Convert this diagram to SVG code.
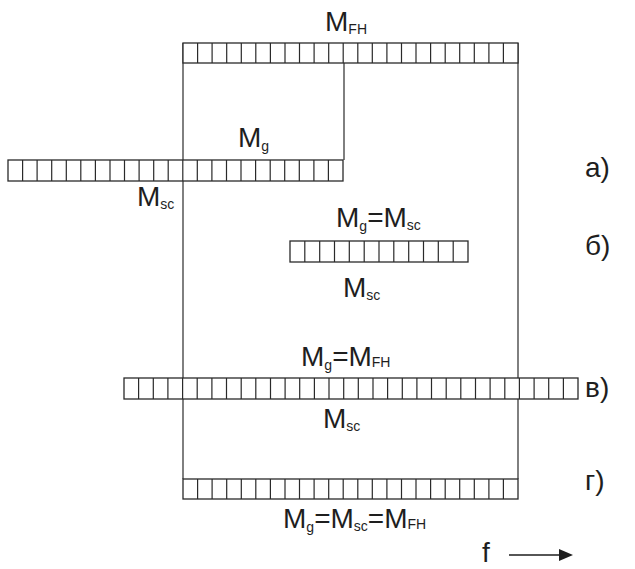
<svg xmlns="http://www.w3.org/2000/svg" width="635" height="569" viewBox="0 0 635 569">
  <defs>
    <style>
      .bar { fill: #ffffff; stroke: #2a2a2a; stroke-width: 1.3; }
      .cells { fill: none; stroke: #2a2a2a; stroke-width: 1.2; }
      .frame { fill: none; stroke: #2a2a2a; stroke-width: 1.2; }
      .lbl { font-family: "Liberation Sans", Arial, sans-serif; font-size: 28px; fill: #1e1e1e; }
      .sub { font-size: 14px; }
    </style>
    <marker id="arrowhead" markerWidth="14" markerHeight="12" refX="1" refY="6" orient="auto" markerUnits="userSpaceOnUse">
      <polygon points="0,0 14,6 0,12" fill="#1e1e1e"/>
    </marker>
  </defs>
  <rect width="635" height="569" fill="#ffffff"/>

  <!-- frame lines joining the filter bands -->
  <g id="connectors">
    <line class="frame" x1="183" y1="43" x2="183" y2="479"/>
    <line class="frame" x1="518" y1="43" x2="518" y2="479"/>
    <line class="frame" x1="344" y1="63" x2="344" y2="160"/>
  </g>

  <!-- top band: M_FH -->
  <g id="band-fh">
    <rect class="bar" x="183" y="43" width="335" height="20"/>
    <path class="cells" d="M197.6,43V63M212.1,43V63M226.7,43V63M241.3,43V63M255.8,43V63M270.4,43V63M285,43V63M299.5,43V63M314.1,43V63M328.7,43V63M343.2,43V63M357.8,43V63M372.3,43V63M386.9,43V63M401.5,43V63M416,43V63M430.6,43V63M445.2,43V63M459.7,43V63M474.3,43V63M488.9,43V63M503.4,43V63"/>
    <text class="lbl" x="325" y="31">M<tspan class="sub" dy="3">FH</tspan></text>
  </g>

  <!-- case a -->
  <g id="band-a">
    <rect class="bar" x="8" y="160" width="335" height="21"/>
    <path class="cells" d="M22.6,160V181M37.1,160V181M51.7,160V181M66.3,160V181M80.8,160V181M95.4,160V181M110,160V181M124.5,160V181M139.1,160V181M153.7,160V181M168.2,160V181M182.8,160V181M197.3,160V181M211.9,160V181M226.5,160V181M241,160V181M255.6,160V181M270.2,160V181M284.7,160V181M299.3,160V181M313.9,160V181M328.4,160V181"/>
    <text class="lbl" x="238" y="147">M<tspan class="sub" dy="4">g</tspan></text>
    <text class="lbl" x="137" y="206">M<tspan class="sub" dy="3">sc</tspan></text>
    <text class="lbl" x="585" y="177">а)</text>
  </g>

  <!-- case b -->
  <g id="band-b">
    <rect class="bar" x="290" y="241" width="178" height="21"/>
    <path class="cells" d="M304.8,241V262M319.7,241V262M334.5,241V262M349.3,241V262M364.2,241V262M379,241V262M393.8,241V262M408.7,241V262M423.5,241V262M438.3,241V262M453.2,241V262"/>
    <text class="lbl" x="336" y="227">M<tspan class="sub" dy="4">g</tspan><tspan dy="-4">=M</tspan><tspan class="sub" dy="3">sc</tspan></text>
    <text class="lbl" x="343" y="297">M<tspan class="sub" dy="3">sc</tspan></text>
    <text class="lbl" x="585" y="255">б)</text>
  </g>

  <!-- case c -->
  <g id="band-c">
    <rect class="bar" x="124" y="378" width="454" height="21"/>
    <path class="cells" d="M138.6,378V399M153.3,378V399M167.9,378V399M182.6,378V399M197.2,378V399M211.9,378V399M226.5,378V399M241.2,378V399M255.8,378V399M270.5,378V399M285.1,378V399M299.7,378V399M314.4,378V399M329,378V399M343.7,378V399M358.3,378V399M373,378V399M387.6,378V399M402.3,378V399M416.9,378V399M431.5,378V399M446.2,378V399M460.8,378V399M475.5,378V399M490.1,378V399M504.8,378V399M519.4,378V399M534.1,378V399M548.7,378V399M563.4,378V399"/>
    <text class="lbl" x="301" y="366">M<tspan class="sub" dy="4">g</tspan><tspan dy="-4">=M</tspan><tspan class="sub" dy="1">FH</tspan></text>
    <text class="lbl" x="323" y="428">M<tspan class="sub" dy="3">sc</tspan></text>
    <text class="lbl" x="585" y="397">в)</text>
  </g>

  <!-- case d -->
  <g id="band-d">
    <rect class="bar" x="183" y="479" width="335" height="20"/>
    <path class="cells" d="M197.6,479V499M212.1,479V499M226.7,479V499M241.3,479V499M255.8,479V499M270.4,479V499M285,479V499M299.5,479V499M314.1,479V499M328.7,479V499M343.2,479V499M357.8,479V499M372.3,479V499M386.9,479V499M401.5,479V499M416,479V499M430.6,479V499M445.2,479V499M459.7,479V499M474.3,479V499M488.9,479V499M503.4,479V499"/>
    <text class="lbl" x="283" y="528">M<tspan class="sub" dy="4">g</tspan><tspan dy="-4">=M</tspan><tspan class="sub" dy="3">sc</tspan><tspan dy="-3">=M</tspan><tspan class="sub" dy="1">FH</tspan></text>
    <text class="lbl" x="585" y="490">г)</text>
  </g>

  <!-- frequency axis -->
  <g id="axis-f">
    <text class="lbl" x="482" y="562">f</text>
    <line x1="509" y1="555" x2="560" y2="555" stroke="#1e1e1e" stroke-width="1.6" marker-end="url(#arrowhead)"/>
  </g>
</svg>
